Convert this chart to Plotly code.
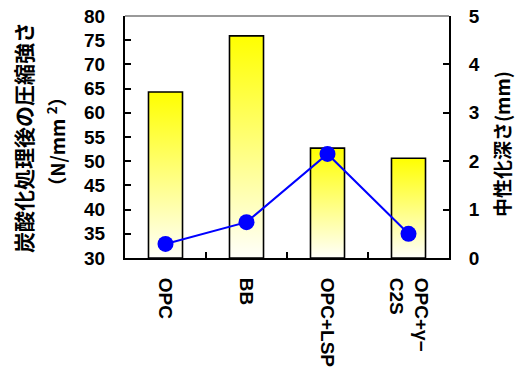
import plotly.graph_objects as go

categories = ["OPC", "BB", "OPC+LSP", "OPC+γ−<br>C2S"]
strength = [64.3, 75.9, 52.7, 50.6]
depth = [0.29, 0.74, 2.15, 0.50]
y1_ticks = [30, 35, 40, 45, 50, 55, 60, 65, 70, 75, 80]
y2_ticks = [0, 1, 2, 3, 4, 5]

FONT = "Liberation Sans"
half = 0.21
base = 30

fig = go.Figure()
for i, v in enumerate(strength):
    fig.add_trace(go.Scatter(
        x=[i - half, i - half, i + half, i + half, i - half],
        y=[base, v, v, base, base],
        mode="lines", fill="toself",
        line=dict(color="black", width=1.6),
        fillgradient=dict(type="vertical",
                          colorscale=[[0, "#FFFFFA"], [1, "#FFFF00"]]),
        showlegend=False, hoverinfo="skip",
    ))

fig.add_trace(go.Scatter(
    x=list(range(len(categories))), y=depth, yaxis="y2",
    mode="lines+markers",
    line=dict(color="#0000FF", width=2),
    marker=dict(color="#0000FF", size=16),
    showlegend=False,
))

tickfont = dict(family=FONT, size=19, color="black", weight="bold")

fig.update_layout(
    width=515, height=371,
    margin=dict(l=125, r=66, t=16, b=113),
    paper_bgcolor="white", plot_bgcolor="white",
    xaxis=dict(
        range=[-0.5, 3.5], tickmode="array",
        tickvals=list(range(len(categories))), ticktext=categories,
        tickangle=90, ticks="", showgrid=False, zeroline=False,
        showline=True, linecolor="black", linewidth=2, automargin=False,
        tickfont=dict(family=FONT, size=19, color="black", weight="bold"),
        ticklabelstandoff=14,
        minor=dict(tickmode="array", tickvals=[0.5, 1.5, 2.5],
                   ticks="inside", ticklen=6, tickwidth=2, tickcolor="black"),
    ),
    yaxis=dict(
        range=[30, 80], tickmode="array", tickvals=y1_ticks,
        ticks="inside", ticklen=6, tickwidth=2, tickcolor="black",
        showgrid=False, zeroline=False, automargin=False,
        showline=True, linecolor="black", linewidth=2,
        tickfont=tickfont, ticklabelstandoff=14,
    ),
    yaxis2=dict(
        range=[0, 5], tickmode="array", tickvals=y2_ticks,
        overlaying="y", side="right", automargin=False,
        ticks="inside", ticklen=6, tickwidth=2, tickcolor="black",
        showgrid=False, zeroline=False,
        showline=True, linecolor="black", linewidth=2,
        tickfont=tickfont, ticklabelstandoff=14,
    ),
    shapes=[dict(type="line", xref="paper", yref="paper",
                 x0=0, x1=1, y0=1, y1=1,
                 line=dict(color="#999999", width=2))],
    annotations=[
        dict(text="炭酸化処理後の圧縮強さ", textangle=-90,
             xref="paper", yref="paper", x=-0.315, y=0.5,
             xanchor="center", yanchor="middle", showarrow=False,
             font=dict(family="Noto Sans CJK JP", size=21, color="black", weight="bold")),
        dict(text="（N/mm <sup>2</sup>）", textangle=-90,
             xref="paper", yref="paper", x=-0.213, y=0.48,
             xanchor="center", yanchor="middle", showarrow=False,
             font=dict(family="Noto Sans CJK JP", size=19, color="black", weight="bold")),
        dict(text="中性化深さ(mm)", textangle=-90,
             xref="paper", yref="paper", x=1.16, y=0.47,
             xanchor="center", yanchor="middle", showarrow=False,
             font=dict(family="Noto Sans CJK JP", size=19, color="black", weight="bold")),
    ],
)

fig.write_html("out.html")
